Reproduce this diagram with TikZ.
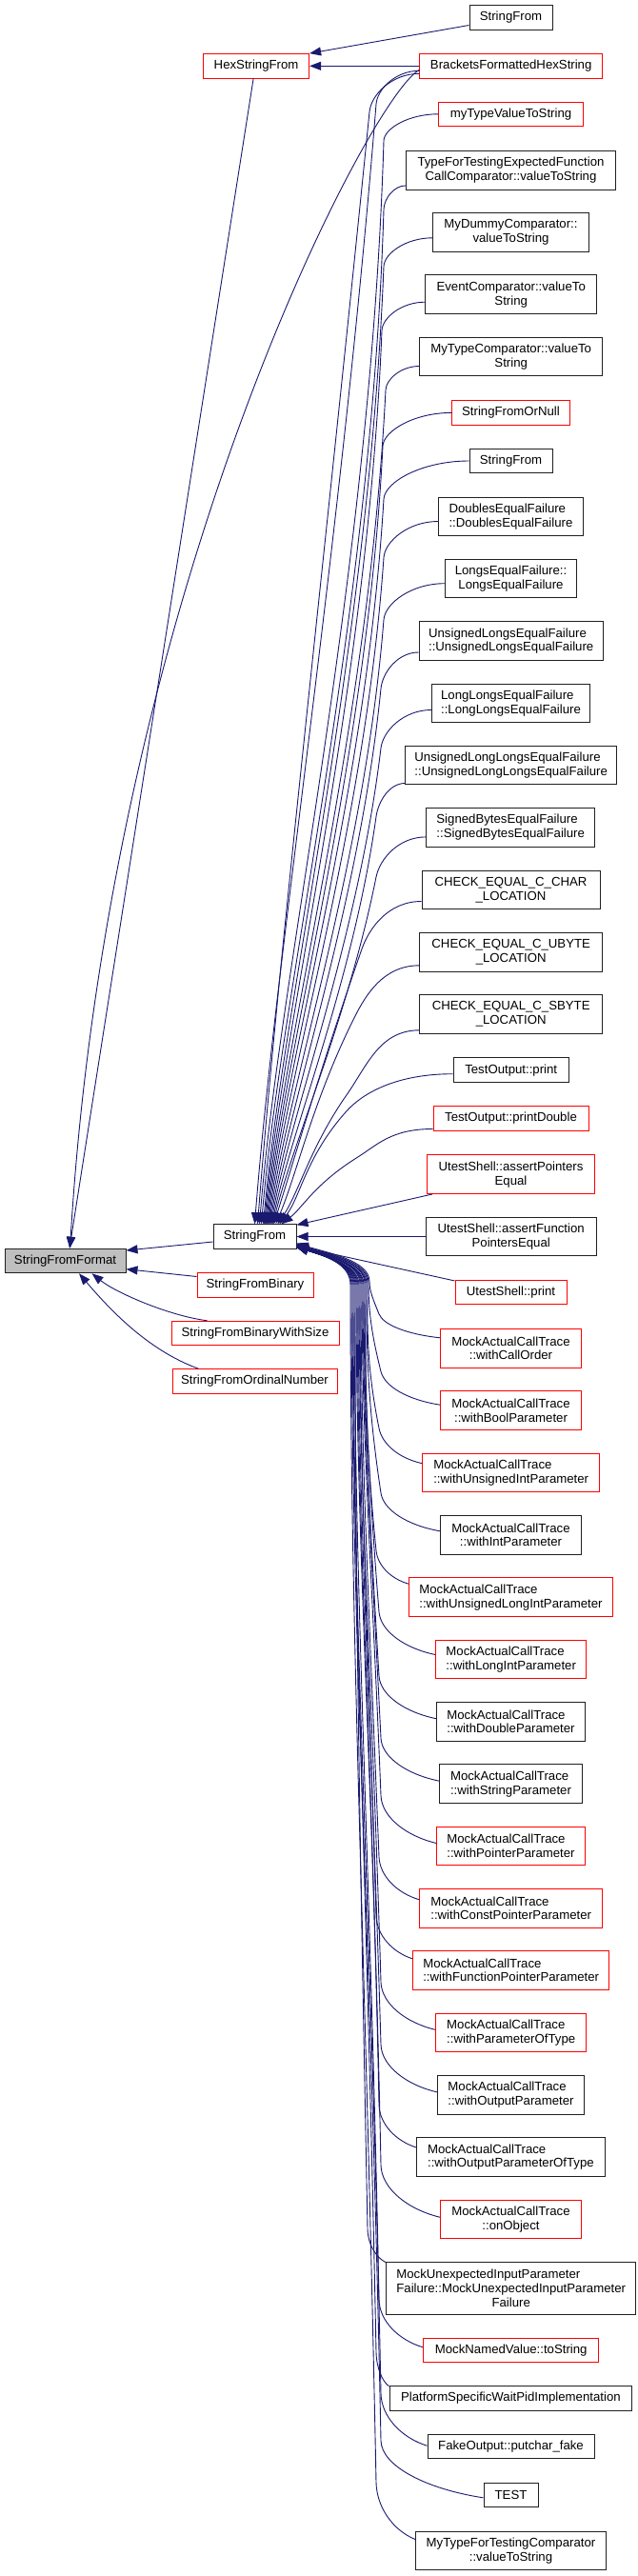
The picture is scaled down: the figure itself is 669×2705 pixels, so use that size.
\documentclass[tikz,border=0pt]{standalone}
\usepackage{fontspec}
\setmainfont{Liberation Sans}
\usetikzlibrary{arrows.meta,calc}
\definecolor{edgeblue}{HTML}{191970}
\definecolor{boxgray}{HTML}{BFBFBF}
\definecolor{boxred}{HTML}{FF0000}
\definecolor{boxblack}{HTML}{202020}
\newcommand\dfont{\fontsize{13.2pt}{14.8pt}\selectfont}
\tikzset{
 nbox/.style={draw, line width=1pt, fill=white, inner sep=1pt, font=\dfont, align=center},
 rbox/.style={nbox, draw=boxred},
 kbox/.style={nbox, draw=boxblack},
 hA/.style={minimum height=25.5pt},
 hB/.style={minimum height=40.5pt},
 hC/.style={minimum height=54.7pt},
 conn/.style={draw=edgeblue, line width=0.9pt, -{Triangle[length=12pt,width=9pt]}},
}
% edge from a node above StringFrom into its top side
% #1 node, #2 entry yshift, #3 knee x, #4 knee drop, #5 slope, #6 target xshift
\newcommand\topconn[6]{%
 \draw[conn] let \p1=([yshift=#2pt]#1.west), \p2=([xshift=#6pt]sfm.north), \p3=(#3pt,\y1-#4pt),
  \n1={0.4*(\y3-\y2)}, \n2={#5*\n1}, \n3={0.55*(\x1-\x3)}, \n4={#5*0.45*#4}, \n5={0.45*#4}, \n6={0.6*\n1} in
  (\p1) .. controls +(-\n3,0) and +(\n4,\n5) .. (\p3) .. controls +(-\n2,-\n1) and +(22,\n6) .. (\p2);}
% edge from a node below StringFrom into its right side
% #1 node, #2 entry yshift, #3 knee x, #4 knee rise, #5 slope, #6 target yshift, #7 bundle x
\newcommand\botconn[7]{%
 \draw[conn] let \p1=([yshift=#2pt]#1.west), \p2=([yshift=#6pt]sfm.east), \p3=(#3pt,\y1+#4pt), \p4=(#7pt,\y2-40pt),
  \n1={0.45*(\y4-\y3)}, \n2={#5*\n1}, \n3={0.55*(\x1-\x3)}, \n4={#5*0.45*#4}, \n5={0.45*#4}, \n6={0.15*#4}, \n7={0.3*(\y4-\y3)} in
  (\p1) .. controls +(-\n3,\n6) and +(\n4,-\n5) .. (\p3) .. controls +(-\n2,\n1) and +(0,-\n7) .. (\p4) .. controls +(0,22) and +(32,-10) .. (\p2);}
\begin{document}
\begin{tikzpicture}[x=1pt,y=1pt]
\fill[white] (0,0) rectangle (669,-2705);
\useasboundingbox (0,0) rectangle (669,-2705);

% left part
\node[nbox,hA,draw=boxblack,fill=boxgray,minimum width=127pt] (sff) at (68.5,-1324) {StringFromFormat};
\node[kbox,hA,minimum width=87pt] (sfm) at (267.5,-1298.5) {StringFrom};
\node[rbox,hA,minimum width=122pt] (sfb) at (268,-1349.5) {StringFromBinary};
\node[rbox,hA,minimum width=176pt] (sfbws) at (268,-1400) {StringFromBinaryWithSize};
\node[rbox,hA,minimum width=173pt] (sfon2) at (267.5,-1450.5) {StringFromOrdinalNumber};
\node[rbox,hA,minimum width=111pt] (hex) at (269.1,-69.3) {HexStringFrom};

% right column
\node[kbox,hA,minimum width=87pt] (sf1) at (536.5,-18.5) {StringFrom};
\node[rbox,hA,minimum width=191.5pt] (brk) at (536.7,-69.3) {BracketsFormattedHexString};
\node[rbox,hA,minimum width=152pt] (mytv) at (536.5,-119.8) {myTypeValueToString};
\node[kbox,hB,minimum width=219.6pt] (tft) at (536.5,-178.9) {TypeForTestingExpectedFunction\\CallComparator::valueToString};
\node[kbox,hB,minimum width=163.8pt] (mdc) at (536.5,-243.8) {MyDummyComparator::\\valueToString};
\node[kbox,hB,minimum width=179.6pt] (evc) at (536.7,-309.2) {EventComparator::valueTo\\String};
\node[kbox,hB,minimum width=191.5pt] (mtc) at (536.7,-374.5) {MyTypeComparator::valueTo\\String};
\node[rbox,hA,minimum width=123.5pt] (sfon) at (536.5,-433.4) {StringFromOrNull};
\node[kbox,hA,minimum width=87pt] (sf2) at (536.5,-484) {StringFrom};
\node[kbox,hB,minimum width=151.8pt,align=left] (def) at (536.5,-542.5) {DoublesEqualFailure\\::DoublesEqualFailure};
\node[kbox,hB,minimum width=138pt] (lef) at (536.5,-607.7) {LongsEqualFailure::\\LongsEqualFailure};
\node[kbox,hB,minimum width=193.4pt,align=left] (ulef) at (536.7,-673) {UnsignedLongsEqualFailure\\::UnsignedLongsEqualFailure};
\node[kbox,hB,minimum width=166.4pt,align=left] (llef) at (536.5,-738.5) {LongLongsEqualFailure\\::LongLongsEqualFailure};
\node[kbox,hB,minimum width=221.8pt,align=left] (ullef) at (536.7,-803.5) {UnsignedLongLongsEqualFailure\\::UnsignedLongLongsEqualFailure};
\node[kbox,hB,minimum width=177pt,align=left] (sbef) at (536.2,-868.9) {SignedBytesEqualFailure\\::SignedBytesEqualFailure};
\node[kbox,hB,minimum width=187pt] (cc) at (536.5,-934.5) {CHECK\_EQUAL\_C\_CHAR\\\_LOCATION};
\node[kbox,hB,minimum width=191.5pt] (cu) at (536.7,-999.8) {CHECK\_EQUAL\_C\_UBYTE\\\_LOCATION};
\node[kbox,hB,minimum width=191.5pt] (cs) at (536.7,-1064.8) {CHECK\_EQUAL\_C\_SBYTE\\\_LOCATION};
\node[kbox,hA,minimum width=121.4pt] (tout) at (536.7,-1123.7) {TestOutput::print};
\node[rbox,hA,minimum width=163pt] (toutd) at (536.5,-1174.5) {TestOutput::printDouble};
\node[rbox,hB,minimum width=175.8pt] (uape) at (536.5,-1233.2) {UtestShell::assertPointers\\Equal};
\node[kbox,hB,minimum width=178.7pt] (uafp) at (536.7,-1298.5) {UtestShell::assertFunction\\PointersEqual};
\node[rbox,hA,minimum width=117pt] (usp) at (536.5,-1357.2) {UtestShell::print};
\node[rbox,hB,minimum width=147.5pt] (ma1) at (536.5,-1415.8) {MockActualCallTrace\\::withCallOrder};
\node[rbox,hB,minimum width=147.5pt] (ma2) at (536.5,-1481.2) {MockActualCallTrace\\::withBoolParameter};
\node[rbox,hB,minimum width=185.7pt,align=left] (ma3) at (536.7,-1546.7) {MockActualCallTrace\\::withUnsignedIntParameter};
\node[kbox,hB,minimum width=147.5pt] (ma4) at (536.5,-1611.8) {MockActualCallTrace\\::withIntParameter};
\node[rbox,hB,minimum width=213.6pt,align=left] (ma5) at (536.5,-1677.2) {MockActualCallTrace\\::withUnsignedLongIntParameter};
\node[rbox,hB,minimum width=158.2pt,align=left] (ma6) at (536.7,-1742.5) {MockActualCallTrace\\::withLongIntParameter};
\node[kbox,hB,minimum width=155.1pt,align=left] (ma7) at (536.5,-1807.8) {MockActualCallTrace\\::withDoubleParameter};
\node[kbox,hB,minimum width=149.1pt,align=left] (ma8) at (536.5,-1873.2) {MockActualCallTrace\\::withStringParameter};
\node[rbox,hB,minimum width=155.1pt,align=left] (ma9) at (536.5,-1938.5) {MockActualCallTrace\\::withPointerParameter};
\node[rbox,hB,minimum width=191.5pt,align=left] (ma10) at (536.7,-2003.8) {MockActualCallTrace\\::withConstPointerParameter};
\node[rbox,hB,minimum width=206.2pt,align=left] (ma11) at (536.7,-2068.8) {MockActualCallTrace\\::withFunctionPointerParameter};
\node[rbox,hB,minimum width=158.2pt,align=left] (ma12) at (536.7,-2134.3) {MockActualCallTrace\\::withParameterOfType};
\node[kbox,hB,minimum width=154.3pt,align=left] (ma13) at (536.5,-2199.8) {MockActualCallTrace\\::withOutputParameter};
\node[kbox,hB,minimum width=197.2pt,align=left] (ma14) at (536.4,-2265) {MockActualCallTrace\\::withOutputParameterOfType};
\node[rbox,hB,minimum width=147.5pt] (ma15) at (536.5,-2330.3) {MockActualCallTrace\\::onObject};
\node[kbox,hC,minimum width=262pt] (mui) at (536.7,-2402.7) {\setbox0\hbox{Failure::MockUnexpectedInputParameter}\makebox[\wd0][l]{MockUnexpectedInputParameter}\\Failure::MockUnexpectedInputParameter\\Failure};
\node[rbox,hA,minimum width=184pt] (mnv) at (536.7,-2467.8) {MockNamedValue::toString};
\node[kbox,hA,minimum width=254.8pt] (pswp) at (536.4,-2518.5) {PlatformSpecificWaitPidImplementation};
\node[kbox,hA,minimum width=175pt] (fo) at (536.5,-2569.2) {FakeOutput::putchar\_fake};
\node[kbox,hA,minimum width=57pt] (tst) at (536.5,-2619.8) {TEST};
\node[kbox,hB,minimum width=199.8pt] (mtftc) at (536.5,-2678.5) {MyTypeForTestingComparator\\::valueToString};

% edges into StringFromFormat
\draw[conn] ([yshift=-5.5pt]sfm.west) -- ([yshift=11pt]sff.east);
\draw[conn] ([yshift=9pt]sfb.west) -- ([yshift=-8.7pt]sff.east);
\draw[conn] ([xshift=38pt]sfbws.north west) .. controls +(-40,5) and +(25,-20) .. ([xshift=28pt]sff.south);
\draw[conn] ([xshift=28pt]sfon2.north west) .. controls +(-55,20) and +(30,-35) .. ([xshift=14.5pt]sff.south);
\draw[conn] ([xshift=-3pt]hex.south) -- ([xshift=4.5pt]sff.north);
\draw[conn] ([yshift=-4pt]brk.west) .. controls +(-51,-27) and +(41.5,691) .. ([xshift=5pt]sff.north);

% edges into HexStringFrom
\draw[conn] ([yshift=-8pt]sf1.west) -- (hex.north east);
\draw[conn] (brk.west) -- (hex.east);

% edges into StringFrom (from above)
\topconn{brk}{-5}{395}{35}{0.08}{0}
\topconn{brk}{-8}{388}{40}{0.1}{3}
\topconn{mytv}{0}{403}{28}{0.03}{5}
\topconn{tft}{-16}{403}{25}{0.03}{7}
\topconn{mdc}{-6}{403}{30}{0.04}{9}
\topconn{evc}{-8}{401}{30}{0.04}{10}
\topconn{mtc}{-10}{405}{25}{0.05}{11}
\topconn{sfon}{0}{402}{35}{0.05}{12}
\topconn{sf2}{0}{403}{40}{0.06}{13}
\topconn{def}{-5}{403}{38}{0.07}{14}
\topconn{lef}{-5}{403}{38}{0.08}{15}
\topconn{ulef}{-12}{400}{38}{0.1}{16}
\topconn{llef}{-7}{400}{40}{0.12}{17}
\topconn{ullef}{-19}{395}{35}{0.14}{18}
\topconn{sbef}{-10}{395}{42}{0.2}{19}
\topconn{cc}{-12}{380}{50}{0.35}{20}
\topconn{cu}{-14}{372}{55}{0.5}{22}
\topconn{cs}{-17}{364}{68}{0.7}{24}
\topconn{tout}{-4}{364}{39}{0.9}{26}
\topconn{toutd}{-11}{375}{30}{1.6}{28}

% straight edges
\draw[conn] ([xshift=6pt]uape.south west) -- ([yshift=-1pt]sfm.north east);
\draw[conn] (uafp.west) -- (sfm.east);
\draw[conn] ([yshift=-1pt]usp.north west) -- ([yshift=-10pt]sfm.east);

% edges into StringFrom (from below)
\botconn{ma1}{11}{398}{25}{0.4}{-7}{388}
\botconn{ma2}{6}{400}{35}{0.25}{-8}{387}
\botconn{ma3}{10}{398}{37}{0.2}{-8}{386}
\botconn{ma4}{4}{400}{40}{0.15}{-9}{385}
\botconn{ma5}{14}{395}{35}{0.1}{-9}{384}
\botconn{ma6}{5}{398}{45}{0.08}{-9}{383}
\botconn{ma7}{3}{398}{45}{0.06}{-10}{382}
\botconn{ma8}{3}{400}{45}{0.05}{-10}{381}
\botconn{ma9}{3}{400}{50}{0.04}{-10}{380}
\botconn{ma10}{9}{398}{45}{0.04}{-10}{379}
\botconn{ma11}{12}{395}{45}{0.03}{-10}{378}
\botconn{ma12}{3}{400}{50}{0.03}{-11}{377}
\botconn{ma13}{3}{400}{50}{0.03}{-11}{376}
\botconn{ma14}{10}{398}{45}{0.02}{-11}{375}
\botconn{ma15}{2}{400}{55}{0.02}{-11}{374}
\botconn{mui}{27}{386}{35}{0.02}{-11}{373}
\botconn{mnv}{3}{398}{50}{0.02}{-11}{372}
\botconn{pswp}{12.8}{395}{36}{0.02}{-11}{371}
\botconn{fo}{1}{400}{55}{0.02}{-11}{370}
\botconn{tst}{-3}{400}{60}{0.02}{-11}{369}
\botconn{mtftc}{12}{395}{60}{0.02}{-11}{368}
\end{tikzpicture}
\end{document}
